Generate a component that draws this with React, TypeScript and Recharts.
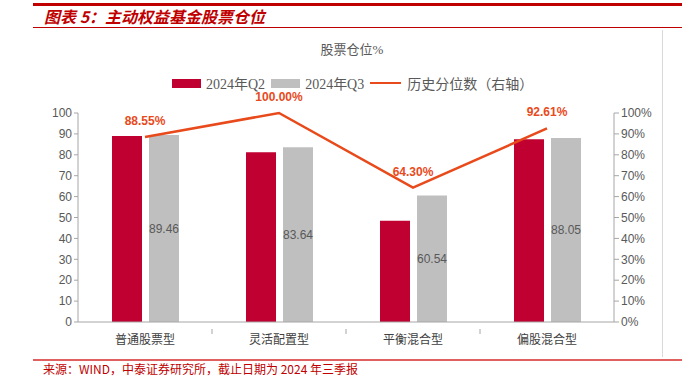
import React from "react";
import {
  ComposedChart,
  Bar,
  Line,
  XAxis,
  YAxis,
  LabelList,
} from "recharts";

const categories = ["普通股票型", "灵活配置型", "平衡混合型", "偏股混合型"];
const q2Values = [89.0, 81.2, 48.4, 87.4];
const q3Values = [89.46, 83.64, 60.54, 88.05];
const percentileValues = [88.55, 100.0, 64.3, 92.61];
const leftTicks = [0, 10, 20, 30, 40, 50, 60, 70, 80, 90, 100];

const data = categories.map((name, i) => ({
  name,
  q2: q2Values[i],
  q3: q3Values[i],
  pct: percentileValues[i],
}));

const RED = "#C00030";
const GREY = "#BFBFBF";
const LINE = "#E84A1B";
const AXIS = "#A6A6A6";
const TEXT = "#595959";
const SANS = '"Liberation Sans", Arial, sans-serif';
const CJK = '"Noto Sans CJK SC", sans-serif';
const SERIF = '"Liberation Serif", "Noto Sans CJK SC", serif';

const CHART_W = 682;
const CHART_H = 379;
const MARGIN = { top: 113, right: 23, bottom: 32, left: 38 };
const LEFT_AXIS_W = 40;
const RIGHT_AXIS_W = 45;
const PLOT_W = CHART_W - MARGIN.left - MARGIN.right - LEFT_AXIS_W - RIGHT_AXIS_W;
const BAND = PLOT_W / categories.length;

// category label plus a divider tick on the right edge of each band
const CategoryTick = (props: any) => {
  const { x, y, payload, index } = props;
  return (
    <g>
      <text
        x={x}
        y={y + 14}
        textAnchor="middle"
        fill="#404040"
        fontSize={12}
        fontFamily={CJK}
      >
        {payload.value}
      </text>
      {index < categories.length - 1 && (
        <line x1={x + BAND / 2} x2={x + BAND / 2} y1={y - 1} y2={y + 4} stroke={AXIS} />
      )}
    </g>
  );
};

const LegendBox = ({ color, label }: { color: string; label: string }) => (
  <span style={{ display: "inline-flex", alignItems: "center", marginRight: 6 }}>
    <span style={{ display: "inline-block", width: 29, height: 9, background: color, marginRight: 5 }} />
    <span>{label}</span>
  </span>
);

export default function App() {
  return (
    <div
      style={{
        position: "absolute",
        left: 0,
        top: 0,
        width: CHART_W,
        height: CHART_H,
        background: "#fff",
        overflow: "hidden",
      }}
    >
      {/* header */}
      <div style={{ position: "absolute", left: 33, right: 0, top: 3, height: 3, background: "#C00000" }} />
      <div
        style={{
          position: "absolute",
          left: 44,
          top: 6,
          fontFamily: CJK,
          fontSize: 16,
          fontWeight: "bold",
          fontStyle: "italic",
          color: "#C00000",
          lineHeight: "20px",
          whiteSpace: "nowrap",
        }}
      >
        图表 5：主动权益基金股票仓位
      </div>
      <div style={{ position: "absolute", left: 33, right: 0, top: 27, height: 1, background: "#C00000" }} />
      <div style={{ position: "absolute", left: 662, top: 30, width: 1, height: 327, background: "#D9D9D9" }} />

      <div
        style={{
          position: "absolute",
          left: 0,
          width: 704,
          top: 39,
          textAlign: "center",
          fontFamily: SERIF,
          fontSize: 13,
          color: TEXT,
        }}
      >
        股票仓位%
      </div>

      <div
        style={{
          position: "absolute",
          left: 172,
          top: 73,
          display: "flex",
          alignItems: "center",
          fontFamily: SERIF,
          fontSize: 14,
          color: TEXT,
          whiteSpace: "nowrap",
        }}
      >
        <LegendBox color={RED} label="2024年Q2" />
        <LegendBox color={GREY} label="2024年Q3" />
        <span style={{ display: "inline-flex", alignItems: "center" }}>
          <span style={{ display: "inline-block", width: 31, height: 2.5, background: LINE, marginRight: 6 }} />
          <span>历史分位数（右轴）</span>
        </span>
      </div>

      <ComposedChart
        width={CHART_W}
        height={CHART_H}
        data={data}
        margin={MARGIN}
        barSize={30}
        barGap={7}
        style={{ position: "absolute", left: 0, top: 0 }}
      >
        <XAxis
          dataKey="name"
          axisLine={{ stroke: AXIS }}
          tickLine={false}
          tick={<CategoryTick />}
          interval={0}
          height={25}
        />
        <YAxis
          yAxisId="left"
          domain={[0, 100]}
          ticks={leftTicks}
          axisLine={{ stroke: AXIS }}
          tickLine={{ stroke: AXIS }}
          tickSize={4}
          tick={{ fill: TEXT, fontSize: 12, fontFamily: SANS }}
          width={LEFT_AXIS_W}
          interval={0}
        />
        <YAxis
          yAxisId="right"
          orientation="right"
          domain={[0, 100]}
          ticks={leftTicks}
          tickFormatter={(v: number) => `${v}%`}
          axisLine={{ stroke: AXIS }}
          tickLine={{ stroke: AXIS }}
          tickSize={5}
          tick={{ fill: TEXT, fontSize: 12, fontFamily: SANS, textAnchor: "start" }}
          width={RIGHT_AXIS_W}
          interval={0}
        />
        <Bar yAxisId="left" dataKey="q2" fill={RED} isAnimationActive={false} />
        <Bar yAxisId="left" dataKey="q3" fill={GREY} isAnimationActive={false}>
          <LabelList
            dataKey="q3"
            position="center"
            formatter={(v: any) => Number(v).toFixed(2)}
            fill={TEXT}
            fontSize={12}
            fontFamily={SANS}
          />
        </Bar>
        <Line
          yAxisId="right"
          dataKey="pct"
          stroke={LINE}
          strokeWidth={2.5}
          dot={false}
          activeDot={false}
          isAnimationActive={false}
        >
          <LabelList
            dataKey="pct"
            position="top"
            offset={12}
            formatter={(v: any) => `${Number(v).toFixed(2)}%`}
            fill={LINE}
            fontSize={12}
            fontWeight="bold"
            fontFamily={SANS}
          />
        </Line>
      </ComposedChart>

      {/* footer */}
      <div style={{ position: "absolute", left: 33, right: 0, top: 359, height: 1.5, background: "#E06060" }} />
      <div
        style={{
          position: "absolute",
          left: 43,
          top: 361,
          fontFamily: CJK,
          fontSize: 12,
          color: "#C00000",
          lineHeight: "16px",
          whiteSpace: "nowrap",
        }}
      >
        来源：WIND，中泰证券研究所，截止日期为 2024 年三季报
      </div>
    </div>
  );
}
